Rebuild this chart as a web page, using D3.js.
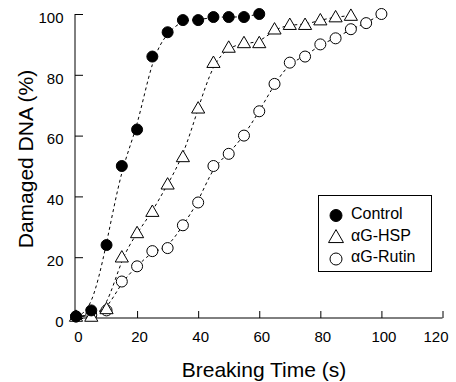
<!DOCTYPE html>
<html>
<head>
<meta charset="utf-8">
<script src="https://cdn.jsdelivr.net/npm/d3@7"></script>
<style>
  body { margin: 0; background: #fff; }
  svg { font-family: Arial, "Liberation Sans", sans-serif; }
</style>
</head>
<body>
<svg id="chart" width="456" height="382"></svg>
<script>
// data: breaking time (s) vs damaged DNA (%)
const controlX = [0, 5, 10, 15, 20, 25, 30, 35, 40, 45, 50, 55, 60]
const controlY = [0.5, 2.5, 24, 50, 62, 86, 94, 98, 98, 99, 99, 99, 100]

const hspX = [0, 5, 10, 15, 20, 25, 30, 35, 40, 45, 50, 55, 60, 65, 70, 75, 80, 85, 90]
const hspY = [0.5, 0.5, 3, 20, 28, 35, 44, 53, 69, 84, 89, 90.5, 90.5, 95, 96.5, 96.5, 98, 99, 99.5]

const rutinX = [0, 5, 10, 15, 20, 25, 30, 35, 40, 45, 50, 55, 60, 65, 70, 75, 80, 85, 90, 95, 100]
const rutinY = [0.5, 1, 2.5, 12, 17, 22, 23, 30.5, 38, 50, 54, 60, 68, 77, 84, 86, 90, 92, 95, 97, 100]

const xTicks = [0, 20, 40, 60, 80, 100, 120]
const yTicks = [0, 20, 40, 60, 80, 100]
const legendLabels = ['Control', 'αG-HSP', 'αG-Rutin']

const series = [
  { name: legendLabels[0], xs: controlX, ys: controlY, shape: 'filled' },
  { name: legendLabels[1], xs: hspX, ys: hspY, shape: 'triangle' },
  { name: legendLabels[2], xs: rutinX, ys: rutinY, shape: 'open' }
]

const svg = d3.select('#chart')

const x = d3.scaleLinear().domain([0, 120]).range([76, 442.5])
const y = d3.scaleLinear().domain([0, 100]).range([318, 14])

// axes, ticks point inwards
const xAxis = svg.append('g')
  .attr('transform', `translate(0,${y(0)})`)
  .call(d3.axisBottom(x).tickValues(xTicks).tickSizeInner(-7).tickSizeOuter(0).tickPadding(13.5))
const yAxis = svg.append('g')
  .attr('transform', `translate(${x(0) - 1},0)`)
  .call(d3.axisLeft(y).tickValues(yTicks).tickSizeInner(-8).tickSizeOuter(0).tickPadding(11.5))

xAxis.select('.domain').attr('d', `M${x(0) - 1},0H${x(120)}`)
yAxis.select('.domain').attr('d', `M0,${y(0)}V${y(100)}`)

for (const ax of [xAxis, yAxis]) {
  ax.selectAll('.domain, line').attr('stroke', '#000').attr('stroke-width', 1)
  ax.selectAll('text').attr('font-size', 15).attr('fill', '#000')
    .attr('font-family', 'Arial, "Liberation Sans", sans-serif')
}
// last label is pulled in so it stays inside the frame
xAxis.selectAll('text').attr('dx', (d, i) => i === xTicks.length - 1 ? -7 : 2)
yAxis.selectAll('text').attr('dy', '0.55em')

// axis titles
svg.append('text')
  .attr('x', 264).attr('y', 376.5)
  .attr('text-anchor', 'middle')
  .attr('font-size', 21)
  .text('Breaking Time (s)')

svg.append('text')
  .attr('transform', 'translate(33,159) rotate(-90)')
  .attr('text-anchor', 'middle')
  .attr('font-size', 21)
  .text('Damaged DNA (%)')

// dashed trend curves
const line = d3.line()
  .x(d => x(d[0]))
  .y(d => y(d[1]))
  .curve(d3.curveBasis)

svg.append('g')
  .selectAll('path')
  .data(series)
  .join('path')
  .attr('d', s => line(d3.zip(s.xs, s.ys)))
  .attr('fill', 'none')
  .attr('stroke', '#000')
  .attr('stroke-width', 1)
  .attr('stroke-dasharray', '3,3')

function drawMarker(g, shape, big) {
  if (shape === 'triangle') {
    g.append('path')
      .attr('d', d3.symbol().type(d3.symbolTriangle).size(big ? 97 : 75)())
      .attr('transform', 'translate(0,1)')
      .attr('fill', '#fff')
      .attr('stroke', '#000')
      .attr('stroke-width', 1)
  } else {
    g.append('circle')
      .attr('r', big ? 6 : 5.5)
      .attr('fill', shape === 'filled' ? '#000' : '#fff')
      .attr('stroke', '#000')
      .attr('stroke-width', 1)
  }
}

// markers, rutin first so control sits on top
for (const s of series.slice().reverse()) {
  svg.append('g')
    .selectAll('g')
    .data(d3.zip(s.xs, s.ys))
    .join('g')
    .attr('transform', d => `translate(${x(d[0])},${y(d[1])})`)
    .each(function () { drawMarker(d3.select(this), s.shape, false) })
}

// legend
const legend = svg.append('g')
legend.append('rect')
  .attr('x', 318.5).attr('y', 195.5)
  .attr('width', 113).attr('height', 76)
  .attr('fill', '#fff')
  .attr('stroke', '#000')
  .attr('stroke-width', 1)

series.forEach((s, i) => {
  const row = legend.append('g').attr('transform', `translate(0,${214 + i * 21.75})`)
  const m = row.append('g').attr('transform', 'translate(336,1.5)')
  drawMarker(m, s.shape, true)
  row.append('text')
    .attr('x', 351).attr('y', 0)
    .attr('dy', '0.3em')
    .attr('font-size', 16)
    .text(s.name)
})
</script>
</body>
</html>
